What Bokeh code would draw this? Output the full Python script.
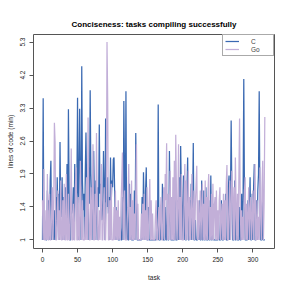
from bokeh.plotting import figure
from bokeh.models import FixedTicker, Legend, LegendItem, ColumnDataSource
from bokeh.embed import file_html
from bokeh.resources import INLINE

# y axis positions (equally spaced) and their labels
y_pos = [0, 1, 2, 3, 4, 5, 6]
y_labels = ["1", "1.4", "1.9", "2.6", "3.3", "4.2", "5.3"]
x_ticks = [0, 50, 100, 150, 200, 250, 300]

c_vals = [
    0, 4.3, 0, 0.6, 0.4, 0, 0, 1.5, 0.9, 1.2, 0, 1.8, 2.4, 0, 1.1, 0.5, 0, 0.9, 0, 1.3,
    0, 1.9, 0.8, 1.4, 0, 2.97, 1.0, 0.7, 1.9, 0, 1.3, 0, 1.0, 1.6, 0.4, 2.3, 0, 3.96, 1.4, 0,
    0, 1.2, 0.8, 1.0, 1.6, 0, 2.3, 1.3, 1.1, 1.5, 4.31, 0, 2.0, 3.98, 1.6, 0, 5.27, 1.8, 0.9, 1.4,
    0, 2.0, 3.26, 1.5, 1.7, 0, 2.2, 1.1, 4.54, 2.0, 1.2, 1.5, 0, 2.7, 1.3, 0, 1.8, 0.9, 0, 1.6,
    1.0, 3.5, 1.4, 1.7, 1.2, 0.6, 1.0, 2.7, 1.5, 0, 3.68, 1.2, 1.0, 1.9, 0.8, 1.3, 0, 2.5, 1.1, 1.8,
    1.6, 2.45, 2.5, 1.4, 0, 1.0, 0, 0.8, 0, 0, 0, 0.4, 0, 0, 1.3, 0, 4.21, 2.0, 0, 4.51,
    0, 1.0, 0, 0, 1.7, 0, 1.4, 0, 0, 0, 0, 1.5, 0, 3.24, 1.2, 0, 0, 0, 0, 0,
    0, 0, 1.3, 0, 2.05, 1.0, 0, 1.5, 2.2, 0, 0, 1.0, 0, 0, 0, 0, 0, 0, 0, 0,
    0, 0, 0, 0.8, 0, 4.11, 0, 0, 0, 0.6, 0, 1.7, 0, 0, 0, 1.0, 0, 0, 1.2, 0,
    0, 2.7, 1.0, 0, 0, 0, 0, 0, 0, 1.7, 0, 0, 0, 1.2, 0, 1.9, 0, 2.85, 1.4, 0,
    1.0, 1.95, 0, 1.3, 0, 0, 1.5, 2.5, 0, 0, 1.2, 0, 1.7, 0, 1.0, 2.94, 0, 0, 0.6, 0,
    0, 0, 0.8, 0, 1.2, 0, 0, 1.8, 0, 0, 1.5, 0, 0, 1.6, 0, 0, 0, 1.2, 0, 0,
    1.95, 0, 0, 1.1, 0, 0, 0, 0, 0, 0, 0, 0.7, 0, 0, 0, 1.2, 0, 0, 0, 1.0,
    0, 1.4, 0, 0, 0, 1.6, 1.95, 0, 1.3, 3.62, 1.5, 0, 0, 0, 1.8, 0, 0, 1.1, 0, 0,
    0, 1.0, 0, 0, 1.4, 0, 1.2, 4.88, 1.3, 0, 0, 0, 0, 1.2, 0, 1.0, 1.9, 0, 0, 1.4,
    0, 1.6, 2.3, 0, 0, 1.2, 0, 1.5, 2.0, 4.51, 1.1, 0, 0, 0, 1.3, 0, 0, 0,
]

go_vals = [
    1.2, 0, 2.15, 0, 0, 0.9, 0, 2.0, 0, 0, 1.4, 0, 0, 0.8, 1.6, 0, 1.0, 3.55, 2.95, 0,
    0, 0.6, 1.5, 0, 0.9, 0, 1.8, 0, 0, 1.2, 0, 1.7, 0, 0, 2.0, 0, 0, 1.4, 0, 0,
    1.0, 2.77, 0, 0, 1.1, 0, 0, 1.6, 2.2, 0, 0, 1.3, 0, 0, 2.4, 0.8, 0, 1.2, 0, 0,
    0, 0.7, 0, 1.9, 0, 3.71, 1.0, 0, 0, 1.6, 0, 1.1, 2.9, 0, 0, 1.4, 0, 3.24, 1.2, 0,
    0, 0.9, 0, 1.3, 2.3, 0, 0, 0.8, 1.6, 0, 0, 1.0, 6.0, 4.2, 0, 0, 1.2, 0, 1.7, 0,
    0, 0, 1.0, 0, 1.5, 0, 0.9, 0, 1.2, 0, 0.7, 0, 1.1, 1.8, 2.65, 0, 0.9, 1.5, 0, 0,
    0, 0.7, 1.3, 2.3, 0, 1.0, 0, 1.8, 0, 1.2, 0, 0.8, 0, 1.4, 2.9, 0, 1.1, 0, 0, 0,
    0, 0.8, 0, 1.1, 0, 1.4, 0, 0.9, 0, 1.6, 0, 0, 1.0, 1.85, 0, 1.2, 0, 0.8, 0, 0,
    0, 0.7, 1.2, 0, 0, 0.6, 1.0, 0, 0.8, 1.3, 0, 0, 1.1, 1.6, 0, 2.0, 1.2, 2.93, 0, 1.4,
    0, 1.0, 2.1, 0, 1.3, 0, 1.9, 0, 2.4, 0, 3.19, 1.5, 0, 1.1, 2.9, 0, 1.3, 0, 2.0, 0,
    0, 0, 1.4, 2.3, 0, 1.8, 0, 0.9, 2.1, 0, 1.3, 0, 0.8, 2.0, 0, 0.7, 1.5, 0, 1.1, 1.7,
    2.25, 0, 1.2, 0, 0.7, 1.5, 0, 0.9, 1.7, 0, 1.1, 0, 1.8, 0, 1.3, 0, 1.5, 2.0, 0, 1.0,
    0, 1.4, 0, 1.7, 0, 1.0, 1.3, 0, 1.5, 0, 0.9, 0, 1.2, 1.6, 0, 0.7, 1.1, 0, 1.4, 0,
    1.2, 0, 1.7, 2.27, 0, 0, 1.0, 1.8, 0, 0.9, 2.1, 1.3, 0, 1.6, 0, 2.5, 1.1, 0, 1.4, 0,
    1.9, 3.68, 1.0, 0, 0.9, 0, 0.7, 0, 1.5, 1.9, 0, 1.1, 0, 0.8, 1.6, 0, 0.9, 1.3, 0, 0.7,
    1.5, 0, 1.0, 2.3, 0, 0, 1.2, 0, 0.7, 0, 2.2, 0.8, 0, 1.6, 2.4, 0, 1.1, 3.73,
]

tasks = list(range(len(c_vals)))
src = ColumnDataSource(dict(task=tasks, c=c_vals, go=go_vals))

FONT = "Liberation Sans"
GREY = "#555555"

p = figure(width=283, height=283, output_backend="svg", toolbar_location=None,
           x_range=(-12.8, 330.8), y_range=(-0.26, 6.23),
           min_border_left=33, min_border_right=9, min_border_top=34, min_border_bottom=34,
           title="Conciseness: tasks compiling successfully")
p.title.align = "center"
p.title.text_font = FONT
p.title.text_font_size = "8px"
p.title.text_font_style = "bold"
p.title.text_color = "#000000"
p.title.standoff = 12

p.grid.visible = False
p.outline_line_color = GREY
p.outline_line_width = 1
p.background_fill_color = "white"
p.border_fill_color = "white"

for ax in (p.xaxis[0], p.yaxis[0]):
    ax.axis_line_color = None
    ax.major_tick_line_color = GREY
    ax.minor_tick_line_color = None
    ax.major_tick_in = 0
    ax.major_tick_out = 4
    ax.major_label_standoff = 4
    ax.major_label_text_font = FONT
    ax.major_label_text_font_size = "6.5px"
    ax.major_label_text_color = "#222222"
    ax.axis_label_text_font = FONT
    ax.axis_label_text_font_size = "6.5px"
    ax.axis_label_text_font_style = "normal"
    ax.axis_label_text_color = "#222222"

p.xaxis[0].ticker = FixedTicker(ticks=x_ticks)
p.xaxis[0].axis_label = "task"
p.xaxis[0].axis_label_standoff = 9
p.yaxis[0].ticker = FixedTicker(ticks=y_pos)
p.yaxis[0].major_label_overrides = {v: l for v, l in zip(y_pos, y_labels)}
p.yaxis[0].major_label_orientation = "vertical"
p.yaxis[0].axis_label = "lines of code (min)"
p.yaxis[0].axis_label_standoff = 4

r_c = p.line("task", "c", source=src, line_color="#3a69b2", line_width=1.25)
r_go = p.line("task", "go", source=src, line_color="#c2afd8", line_width=1.25)

legend = Legend(items=[LegendItem(label="C", renderers=[r_c]),
                       LegendItem(label="Go", renderers=[r_go])],
                location="top_right", margin=0, padding=2, spacing=0,
                label_text_font=FONT, label_text_font_size="6.5px",
                label_height=8, glyph_height=8, glyph_width=14, label_standoff=12,
                border_line_color=GREY, border_line_width=1,
                background_fill_color="white", background_fill_alpha=1.0)
p.add_layout(legend)

open("out.html", "w").write(file_html(p, INLINE))
